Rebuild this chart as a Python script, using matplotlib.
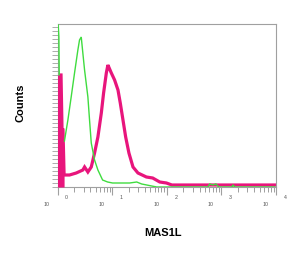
import numpy as np
import matplotlib.pyplot as plt
from matplotlib.ticker import LogLocator, NullFormatter, FixedLocator
import matplotlib.transforms as mtransforms

plt.rcParams['font.family'] = ['Liberation Sans', 'DejaVu Sans']

# isotype control (green) histogram
green_x = [1.03, 1.06, 1.10, 1.24, 1.34, 1.55, 1.78, 2.05, 2.36, 2.53, 2.72, 2.91,
           3.13, 3.60, 3.86, 4.15, 4.77, 5.49, 6.69, 8.27, 10.2, 14.9, 20.9, 28.2,
           34.8, 43.0, 53.1, 65.6, 565, 615, 698, 793, 900, 1560, 1625, 1770, 9500]
green_y = [162, 150, 60, 45, 46, 67, 90, 114, 137, 147, 150, 134,
           117, 90, 67, 44, 27, 17, 7, 5, 4, 4, 4, 5,
           3, 2, 1, 0, 0, 3, 2, 3, 0, 0, 2, 0, 0]

# MAS1L stained (magenta) histogram
mag_x = [1.0, 1.16, 1.21, 1.26, 1.32, 1.66, 2.20, 2.91, 3.13, 3.60, 4.15, 4.77,
         5.49, 6.34, 6.98, 7.83, 8.37, 9.00, 9.67, 11.1, 12.8, 14.1, 15.8, 17.7,
         20.3, 24.1, 29.7, 42.4, 55.3, 74.4, 98.7, 124, 10000]
mag_y = [112, 112, 57, 57, 12, 12, 14, 17, 20, 15, 20, 34,
         50, 74, 94, 114, 122, 118, 114, 107, 97, 84, 67, 50,
         34, 20, 14, 10, 9, 5, 4, 2, 2]

decades = [0, 1, 2, 3, 4]

green = '#3fdc3f'
magenta = '#e8157c'
grey = '#a0a0a0'

fig = plt.figure(figsize=(3.04, 2.54), dpi=100)
ax = fig.add_axes([57.5 / 304, 1 - 187 / 254, (276 - 57.5) / 304, (187 - 24) / 254])

ax.plot(green_x, green_y, color=green, lw=1.0, zorder=3, solid_joinstyle='miter')
ax.plot(mag_x, mag_y, color=magenta, lw=2.3, zorder=2, solid_joinstyle='miter')
# solid block at the low end of the magenta histogram
ax.fill_between(mag_x[:5], mag_y[:5], color=magenta, lw=0, zorder=4)

ax.set_xscale('log')
ax.set_xlim(1, 10000)
ax.set_ylim(0, 163)

for s in ax.spines.values():
    s.set_color(grey)
    s.set_linewidth(0.8)

ax.xaxis.set_major_locator(FixedLocator([10.0 ** d for d in decades]))
ax.xaxis.set_minor_locator(LogLocator(base=10, subs=np.arange(2, 10)))
ax.xaxis.set_major_formatter(NullFormatter())
ax.xaxis.set_minor_formatter(NullFormatter())
ax.tick_params(axis='x', which='major', length=6, width=0.8, color=grey, direction='out')
ax.tick_params(axis='x', which='minor', length=3.5, width=0.7, color=grey, direction='out')

ax.set_yticks(np.arange(0, 164, 4))
ax.set_yticklabels([])
ax.tick_params(axis='y', length=4, width=0.6, color=grey, direction='out')

# flow-cytometry style tick labels: "10" below with the exponent set apart
trans = mtransforms.blended_transform_factory(ax.transData, ax.transAxes)
for d in decades:
    ax.text(10 ** (d - 10.5 / 54.5), -0.11, '10', transform=trans, fontsize=3.8,
            color='#555555', ha='center', va='center')
    ax.text(10 ** (d + 9 / 54.5), -0.062, str(d), transform=trans, fontsize=3.8,
            color='#555555', ha='center', va='center')

fig.text(20 / 304, 1 - 103 / 254, 'Counts', rotation=90, fontsize=8, fontweight='bold',
         ha='center', va='center')
fig.text(163 / 304, 1 - 233 / 254, 'MAS1L', fontsize=8, fontweight='bold',
         ha='center', va='center')

fig.savefig('out.png', dpi=100)
